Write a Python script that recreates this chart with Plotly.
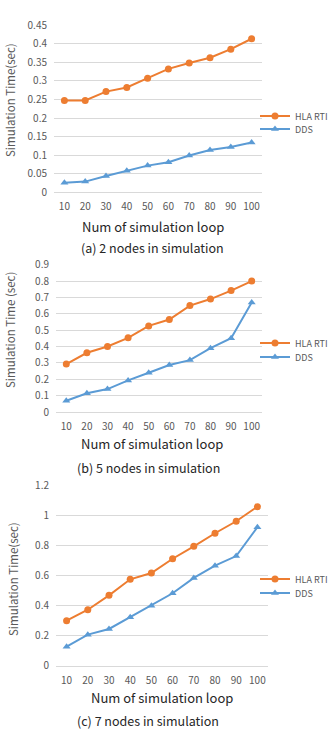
import plotly.graph_objects as go

loops = ["10", "20", "30", "40", "50", "60", "70", "80", "90", "100"]

hla_2 = [0.247, 0.247, 0.271, 0.282, 0.307, 0.332, 0.348, 0.362, 0.385, 0.413]
dds_2 = [0.026, 0.029, 0.044, 0.058, 0.072, 0.081, 0.099, 0.114, 0.122, 0.134]

hla_5 = [0.293, 0.362, 0.400, 0.453, 0.526, 0.565, 0.650, 0.690, 0.742, 0.800]
dds_5 = [0.069, 0.114, 0.140, 0.193, 0.240, 0.287, 0.317, 0.390, 0.451, 0.669]

hla_7 = [0.300, 0.373, 0.469, 0.576, 0.618, 0.713, 0.796, 0.883, 0.963, 1.060]
dds_7 = [0.127, 0.207, 0.245, 0.323, 0.400, 0.483, 0.585, 0.667, 0.731, 0.923]

y_ticks_2 = [0, 0.05, 0.1, 0.15, 0.2, 0.25, 0.3, 0.35, 0.4, 0.45]
y_text_2 = ["0", "0.05", "0.1", "0.15", "0.2", "0.25", "0.3", "0.35", "0.4", "0.45"]
y_ticks_5 = [0, 0.1, 0.2, 0.3, 0.4, 0.5, 0.6, 0.7, 0.8, 0.9]
y_text_5 = ["0", "0.1", "0.2", "0.3", "0.4", "0.5", "0.6", "0.7", "0.8", "0.9"]
y_ticks_7 = [0, 0.2, 0.4, 0.6, 0.8, 1.0, 1.2]
y_text_7 = ["0", "0.2", "0.4", "0.6", "0.8", "1", "1.2"]

y_titles = ["Simulation Time(sec)", "Simulation Time (sec)", "Simulation Time(sec)"]
x_title = "Num of simulation loop"
captions = ["(a) 2 nodes in simulation", "(b) 5 nodes in simulation", "(c) 7 nodes in simulation"]
series_names = ["HLA RTI", "DDS"]

ORANGE = "#ED7D31"
BLUE = "#5B9BD5"
GRID = "#D9D9D9"
TICKC = "#595959"
FONT = "Noto Sans CJK KR"

W, H = 334, 731

def py(p):
    return 1 - p / H

def px(p):
    return p / W

# panel geometry in pixels: (left, right, top, bottom)
panels = [
    (54, 262, 25, 192.4),
    (56, 262, 264.7, 412),
    (56, 268, 485.7, 665.7),
]
ranges = [[0, 0.45], [0, 0.9], [0, 1.2]]
ticks = [(y_ticks_2, y_text_2), (y_ticks_5, y_text_5), (y_ticks_7, y_text_7)]
data = [(hla_2, dds_2), (hla_5, dds_5), (hla_7, dds_7)]
legend_y = [(116, 129), (343, 357), (579, 593)]
ytitle_pos = [(10, 100), (10, 330), (13, 579)]
xtitle_pos = [(153, 226), (152, 443), (162, 697)]
caption_pos = [(152, 247), (148, 467), (148, 720)]

fig = go.Figure()
annotations = []
layout = {}
leg_idx = 0
for i in range(3):
    n = "" if i == 0 else str(i + 1)
    xa, ya = "x" + n, "y" + n
    hla, dds = data[i]
    specs = [(hla, series_names[0], ORANGE, "circle", 7),
             (dds, series_names[1], BLUE, "triangle-up", 7)]
    for j, (vals, name, col, sym, sz) in enumerate(specs):
        leg_idx += 1
        lname = "legend" if leg_idx == 1 else "legend" + str(leg_idx)
        fig.add_trace(go.Scatter(
            x=loops, y=vals, name=name, mode="lines+markers",
            line=dict(color=col, width=2), marker=dict(symbol=sym, size=sz, color=col),
            xaxis=xa, yaxis=ya, legend=lname, showlegend=True))
        layout[lname] = dict(
            x=px(255), y=py(legend_y[i][j]), xanchor="left", yanchor="middle",
            font=dict(family=FONT, size=9, color=TICKC), bgcolor="rgba(0,0,0,0)",
            itemwidth=30, borderwidth=0)
    l, r, t, b = panels[i]
    layout["xaxis" + n] = dict(
        domain=[px(l), px(r)], anchor=ya, type="category", range=[-0.5, 9.5],
        showgrid=False, showline=True, linecolor=GRID, linewidth=1, automargin=False,
        ticks="outside", ticklen=5, tickcolor="rgba(0,0,0,0)",
        tickfont=dict(family=FONT, size=10, color=TICKC), zeroline=False)
    layout["yaxis" + n] = dict(
        domain=[py(b), py(t)], anchor=xa, range=ranges[i], automargin=False,
        tickvals=ticks[i][0], ticktext=ticks[i][1],
        showgrid=True, gridcolor=GRID, gridwidth=1, zeroline=False, showline=False,
        ticks="outside", ticklen=4, tickcolor="rgba(0,0,0,0)",
        tickfont=dict(family=FONT, size=10, color=TICKC))
    ax, ay = ytitle_pos[i]
    annotations.append(dict(text=y_titles[i], x=px(ax), y=py(ay), xref="paper", yref="paper",
                            xanchor="center", yanchor="middle",
                            showarrow=False, textangle=-90,
                            font=dict(family=FONT, size=11.5, color=TICKC)))
    tx, ty = xtitle_pos[i]
    annotations.append(dict(text=x_title, x=px(tx), y=py(ty), xref="paper", yref="paper",
                            xanchor="center", yanchor="middle",
                            showarrow=False, font=dict(family=FONT, size=13, color="#262626")))
    cx, cy = caption_pos[i]
    annotations.append(dict(text=captions[i], x=px(cx), y=py(cy), xref="paper", yref="paper",
                            xanchor="center", yanchor="middle",
                            showarrow=False, font=dict(family=FONT, size=12.5, color="#262626")))

fig.update_layout(
    template="none", showlegend=True,
    width=W, height=H, margin=dict(l=0, r=0, t=0, b=0, pad=0, autoexpand=False),
    paper_bgcolor="white", plot_bgcolor="white",
    annotations=annotations, **layout)

fig.write_html("out.html")
